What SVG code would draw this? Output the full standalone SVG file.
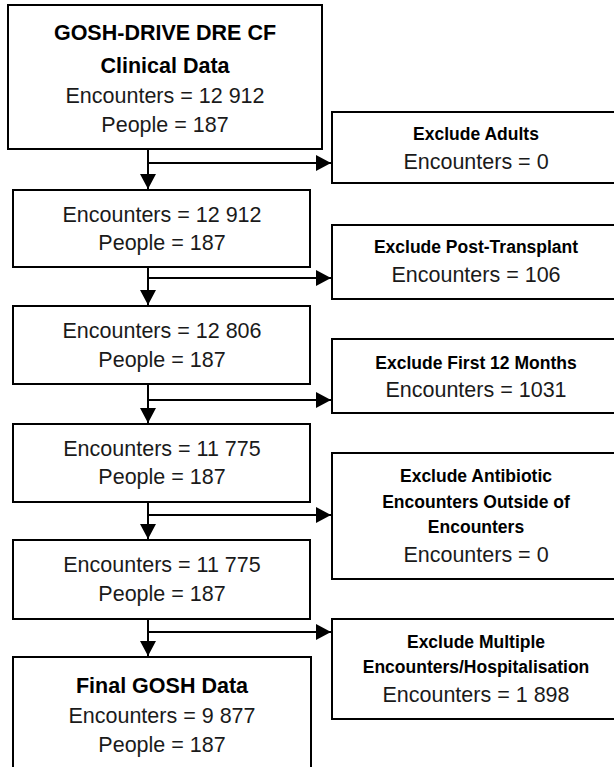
<svg xmlns="http://www.w3.org/2000/svg" width="614" height="767" viewBox="0 0 614 767">
<defs>
<style>
.box{fill:#fff;stroke:#000;stroke-width:2}
.t{font-family:"Liberation Sans",Arial,sans-serif;font-size:21.5px;fill:#1a1a1a;text-anchor:middle}
.b{font-weight:bold;fill:#000}
.s{font-family:"Liberation Sans",Arial,sans-serif;font-size:17.5px;font-weight:bold;fill:#000;text-anchor:middle}
.c{fill:none;stroke:#000;stroke-width:2}
</style>
<marker id="ah" markerUnits="userSpaceOnUse" markerWidth="16" markerHeight="16" refX="15" refY="8" orient="auto">
<path d="M0,0 L15,8 L0,16 z" fill="#000"/>
</marker>
</defs>
<rect width="614" height="767" fill="#fff"/>
<g id="connectors">
<line class="c" x1="148" y1="149" x2="148" y2="189" marker-end="url(#ah)"/>
<line class="c" x1="148" y1="163" x2="331" y2="163" marker-end="url(#ah)"/>
<line class="c" x1="148" y1="267" x2="148" y2="305" marker-end="url(#ah)"/>
<line class="c" x1="148" y1="278" x2="331" y2="278" marker-end="url(#ah)"/>
<line class="c" x1="148" y1="384" x2="148" y2="423" marker-end="url(#ah)"/>
<line class="c" x1="148" y1="400" x2="331" y2="400" marker-end="url(#ah)"/>
<line class="c" x1="148" y1="502" x2="148" y2="539" marker-end="url(#ah)"/>
<line class="c" x1="148" y1="515" x2="331" y2="515" marker-end="url(#ah)"/>
<line class="c" x1="148" y1="619" x2="148" y2="656" marker-end="url(#ah)"/>
<line class="c" x1="148" y1="632" x2="331" y2="632" marker-end="url(#ah)"/>
</g>
<g id="source">
<rect class="box" x="8" y="5" width="314" height="144"/>
<text class="t b" x="165" y="40">GOSH-DRIVE DRE CF</text>
<text class="t b" x="165" y="73">Clinical Data</text>
<text class="t" x="165" y="103">Encounters = 12 912</text>
<text class="t" x="165" y="132">People = 187</text>
</g>
<g id="step1">
<rect class="box" x="13" y="190" width="297" height="77"/>
<text class="t" x="162" y="222">Encounters = 12 912</text>
<text class="t" x="162" y="250">People = 187</text>
</g>
<g id="step2">
<rect class="box" x="13" y="306" width="297" height="78"/>
<text class="t" x="162" y="338">Encounters = 12 806</text>
<text class="t" x="162" y="367">People = 187</text>
</g>
<g id="step3">
<rect class="box" x="13" y="424" width="297" height="78"/>
<text class="t" x="162" y="456">Encounters = 11 775</text>
<text class="t" x="162" y="484">People = 187</text>
</g>
<g id="step4">
<rect class="box" x="13" y="540" width="297" height="79"/>
<text class="t" x="162" y="572">Encounters = 11 775</text>
<text class="t" x="162" y="601">People = 187</text>
</g>
<g id="final">
<rect class="box" x="13" y="657" width="298" height="120"/>
<text class="t b" x="162" y="693">Final GOSH Data</text>
<text class="t" x="162" y="723">Encounters = 9 877</text>
<text class="t" x="162" y="752">People = 187</text>
</g>
<g id="ex-adults">
<rect class="box" x="332" y="112" width="290" height="71"/>
<text class="s" x="476" y="140">Exclude Adults</text>
<text class="t" x="476" y="169">Encounters = 0</text>
</g>
<g id="ex-transplant">
<rect class="box" x="332" y="225" width="290" height="74"/>
<text class="s" x="476" y="253">Exclude Post-Transplant</text>
<text class="t" x="476" y="282">Encounters = 106</text>
</g>
<g id="ex-first12">
<rect class="box" x="332" y="339" width="290" height="74"/>
<text class="s" x="476" y="369">Exclude First 12 Months</text>
<text class="t" x="476" y="397">Encounters = 1031</text>
</g>
<g id="ex-antibiotic">
<rect class="box" x="332" y="453" width="290" height="126"/>
<text class="s" x="476" y="482">Exclude Antibiotic</text>
<text class="s" x="476" y="508">Encounters Outside of</text>
<text class="s" x="476" y="533">Encounters</text>
<text class="t" x="476" y="562">Encounters = 0</text>
</g>
<g id="ex-multiple">
<rect class="box" x="332" y="619" width="290" height="100"/>
<text class="s" x="476" y="648">Exclude Multiple</text>
<text class="s" x="476" y="673">Encounters/Hospitalisation</text>
<text class="t" x="476" y="702">Encounters = 1 898</text>
</g>
</svg>
